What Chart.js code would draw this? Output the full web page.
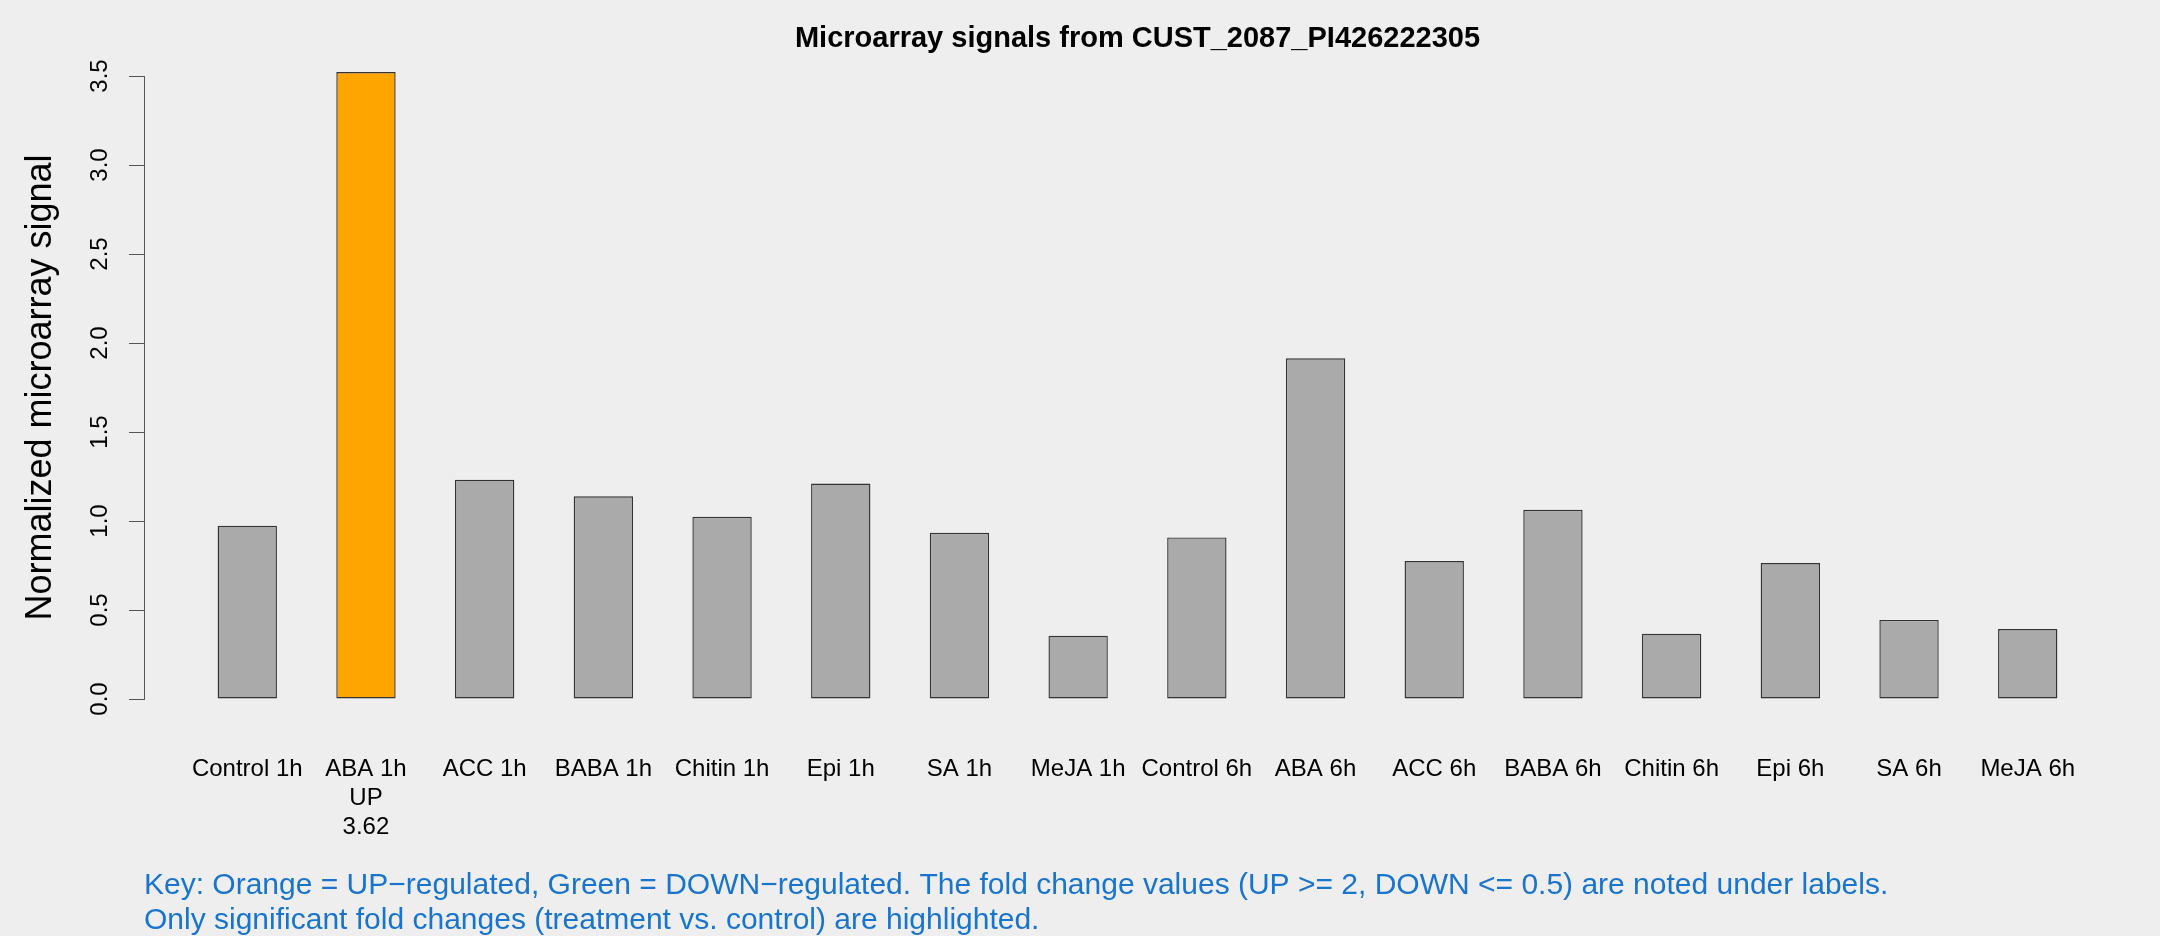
<!DOCTYPE html>
<html>
<head>
<meta charset="utf-8">
<script src="https://cdn.jsdelivr.net/npm/chart.js@4/dist/chart.umd.min.js"></script>
<style>
  html, body { margin: 0; padding: 0; background: #eeeeee; }
  #wrap { width: 2160px; height: 936px; position: relative; }
</style>
</head>
<body>
<div id="wrap"><canvas id="myChart" width="2160" height="936"></canvas></div>
<script>
// data
var categories = ["Control 1h","ABA 1h","ACC 1h","BABA 1h","Chitin 1h","Epi 1h","SA 1h","MeJA 1h",
                  "Control 6h","ABA 6h","ACC 6h","BABA 6h","Chitin 6h","Epi 6h","SA 6h","MeJA 6h"];
var signals = [0.974, 3.522, 1.232, 1.139, 1.024, 1.210, 0.934, 0.356,
               0.908, 1.914, 0.775, 1.063, 0.367, 0.764, 0.444, 0.393];
var regulation = ["","UP","","","","","","","","","","","","","",""];
var foldChange = ["","3.62","","","","","","","","","","","","","",""];
var yTicks = [0, 0.5, 1.0, 1.5, 2.0, 2.5, 3.0, 3.5];

var titleText = "Microarray signals from CUST_2087_PI426222305";
var keyLines = [
  "Key: Orange = UP\u2212regulated, Green = DOWN\u2212regulated. The fold change values (UP >= 2, DOWN <= 0.5) are noted under labels.",
  "Only significant fold changes (treatment vs. control) are highlighted."
];

var FONT = "'Liberation Sans', Arial, Helvetica, sans-serif";

var barColors = regulation.map(function(r){
  if (r === "UP") return "#ffa500";
  if (r === "DOWN") return "#00c000";
  return "#aaaaaa";
});

var points = signals.map(function(v, i){ return {x: i, y: v}; });

// title, rotated y tick labels and key text
var textPlugin = {
  id: "textPlugin",
  afterDraw: function(chart){
    var ctx = chart.ctx;
    var area = chart.chartArea;
    var y = chart.scales.y;
    ctx.save();
    ctx.fillStyle = "#000";
    ctx.font = "bold 29px " + FONT;
    ctx.textAlign = "center";
    ctx.textBaseline = "middle";
    ctx.fillText(titleText, (area.left + area.right) / 2, 39);

    ctx.font = "24px " + FONT;
    yTicks.forEach(function(t){
      var py = y.getPixelForValue(t);
      ctx.save();
      ctx.translate(100, py);
      ctx.rotate(-Math.PI / 2);
      ctx.fillText(t.toFixed(1), 0, 0);
      ctx.restore();
    });

    ctx.fillStyle = "#1874cd";
    ctx.font = "30px " + FONT;
    ctx.textAlign = "left";
    ctx.fillText(keyLines[0], area.left, 886);
    ctx.fillText(keyLines[1], area.left, 921);
    ctx.restore();
  }
};

var myChart = document.getElementById("myChart").getContext("2d");

var barChart = new Chart(myChart, {
  type: "bar",
  data: {
    datasets: [{
      label: "Normalized microarray signal",
      data: points,
      backgroundColor: barColors,
      borderColor: "#333333",
      borderWidth: 1.4,
      borderSkipped: false,
      barPercentage: 0.5,
      categoryPercentage: 1.0,
      clip: false
    }]
  },
  options: {
    responsive: false,
    animation: false,
    layout: { padding: { top: 76, left: 0, right: 29, bottom: 0 } },
    plugins: {
      legend: { display: false },
      title: { display: false },
      tooltip: { enabled: false }
    },
    scales: {
      x: {
        type: "linear",
        offset: false,
        min: -0.87,
        max: 15.87,
        grid: { display: false, drawTicks: false },
        border: { display: false },
        afterFit: function(scale){ scale.height = 237; },
        afterBuildTicks: function(scale){
          scale.ticks = categories.map(function(c, i){ return {value: i}; });
        },
        ticks: {
          autoSkip: false,
          maxRotation: 0,
          minRotation: 0,
          padding: 56,
          color: "#000",
          font: { family: FONT, size: 24, lineHeight: 1.2 },
          callback: function(value){
            var i = Math.round(value);
            var lines = [categories[i]];
            if (regulation[i]) lines.push(regulation[i]);
            if (foldChange[i]) lines.push(foldChange[i]);
            return lines.length > 1 ? lines : lines[0];
          }
        }
      },
      y: {
        min: 0,
        max: 3.5,
        afterFit: function(scale){ scale.width = 144; },
        afterBuildTicks: function(scale){
          scale.ticks = yTicks.map(function(t){ return {value: t}; });
        },
        grid: { drawOnChartArea: false, drawTicks: true, tickLength: 15, color: "#555555", lineWidth: 1 },
        border: { display: true, color: "#555555", width: 1 },
        ticks: { display: false },
        title: {
          display: true,
          text: "Normalized microarray signal",
          color: "#000",
          font: { family: FONT, size: 36 },
          padding: { top: 19, bottom: 0 }
        }
      }
    }
  },
  plugins: [textPlugin]
});
</script>
</body>
</html>
